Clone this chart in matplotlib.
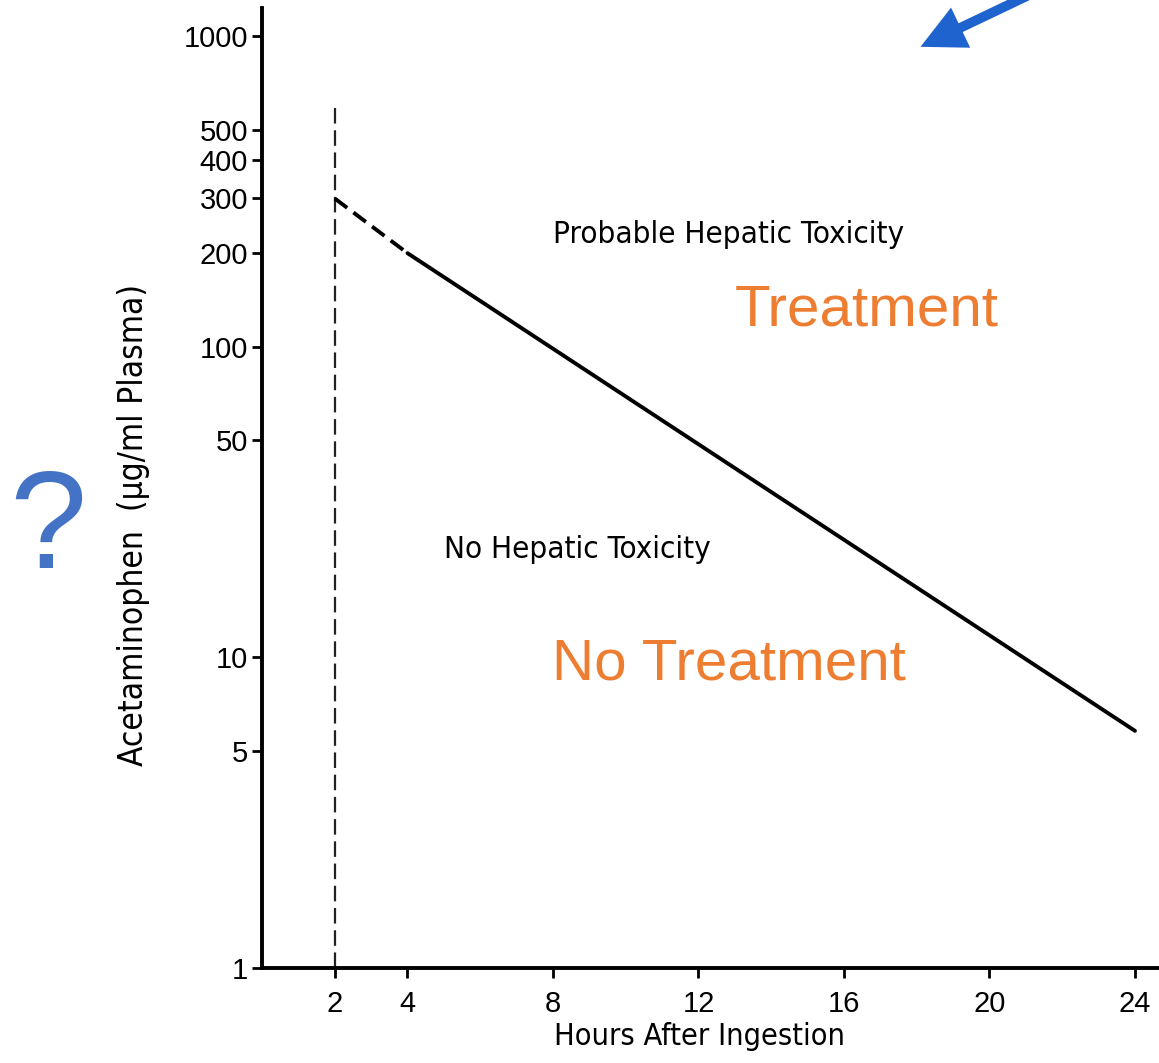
import matplotlib
matplotlib.use("Agg")
from matplotlib import pyplot as plt
from matplotlib.patches import FancyArrowPatch

# nomogram line (hours, ug/ml)
dash_hours = [2, 4]
dash_conc = [300, 200]
solid_hours = [4, 24]
solid_conc = [200, 5.8]
# vertical dashed line at 2 h
vline_hour = 2
vline_top = 600

x_ticks = [2, 4, 8, 12, 16, 20, 24]
y_ticks = [1, 5, 10, 50, 100, 200, 300, 400, 500, 1000]

narrow = dict(family=["DejaVu Sans"], stretch="condensed")
orange = "#ED7D31"

fig = plt.figure(figsize=(11.59, 10.63), dpi=100)
ax = fig.add_axes([262 / 1159, 1 - 968 / 1063, 1 - 262 / 1159, (968 - 8) / 1063])

ax.set_yscale("log")
ax.set_xlim(0, 24.66)
ax.set_ylim(1, 1231)

ax.plot([vline_hour, vline_hour], [1, vline_top], color="#222222", lw=1.6,
        dashes=(7, 3))
ax.plot(dash_hours, dash_conc, color="black", lw=2.8, dashes=(4, 2))
ax.plot(solid_hours, solid_conc, color="black", lw=2.8, solid_capstyle="round")

for s in ["top", "right"]:
    ax.spines[s].set_visible(False)
for s in ["left", "bottom"]:
    ax.spines[s].set_linewidth(2.8)

ax.set_xticks(x_ticks)
ax.set_xticklabels([str(v) for v in x_ticks])
ax.set_yticks(y_ticks)
ax.set_yticklabels([str(v) for v in y_ticks])
ax.yaxis.set_minor_locator(matplotlib.ticker.NullLocator())
ax.tick_params(axis="both", direction="out", length=7, width=2,
               labelsize=21, pad=3, colors="black")
ax.tick_params(axis="x", pad=9)
for lab in ax.get_xticklabels() + ax.get_yticklabels():
    lab.set_family(["Liberation Sans", "DejaVu Sans"])

ax.set_xlabel("Hours After Ingestion", fontsize=22, **narrow)
ax.xaxis.set_label_coords(0.488, -0.056)
ax.set_ylabel("Acetaminophen  (\u00b5g/ml Plasma)", fontsize=24, **narrow)
ax.yaxis.set_label_coords(-0.125, 0.461)

ax.text(12.84, 229, "Probable Hepatic Toxicity", fontsize=22.5,
        ha="center", va="center", **narrow)
ax.text(8.66, 22.2, "No Hepatic Toxicity", fontsize=22.5,
        ha="center", va="center", **narrow)
ax.text(16.63, 131, "Treatment", fontsize=42, color=orange,
        family=["Liberation Sans", "DejaVu Sans"], ha="center", va="center")
ax.text(12.84, 9.46, "No Treatment", fontsize=42, color=orange,
        family=["Liberation Sans", "DejaVu Sans"], ha="center", va="center")

fig.text(0.041, 0.500, "?", fontsize=100, color="#4472C4",
         family=["Liberation Sans", "DejaVu Sans"], ha="center", va="center")

arrow = FancyArrowPatch((1032 / 1159, 1.006), (918 / 1159, 1 - 48 / 1063),
                        transform=fig.transFigure,
                        arrowstyle="simple,head_length=32,head_width=32,tail_width=7",
                        mutation_scale=1, color="#1F63CF", lw=0)
fig.add_artist(arrow)

fig.savefig("out.png", dpi=100)
